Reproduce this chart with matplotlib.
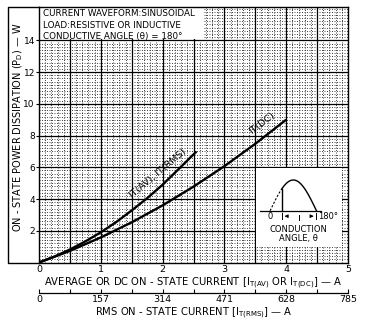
import numpy as np
import matplotlib
matplotlib.use("Agg")
import matplotlib.pyplot as plt
from matplotlib.ticker import MultipleLocator, FixedLocator
from matplotlib.patches import Rectangle
from matplotlib.lines import Line2D

# ---- data ----
av_current = [0, 0.25, 0.5, 0.75, 1.0, 1.25, 1.5, 1.75, 2.0, 2.25, 2.55]
av_power = [0, 0.37, 0.82, 1.33, 1.90, 2.55, 3.28, 4.05, 4.90, 5.85, 7.0]
dc_current = [0, 0.5, 1.0, 1.5, 2.0, 2.5, 3.0, 3.5, 4.0]
dc_power = [0, 0.73, 1.58, 2.53, 3.60, 4.78, 6.07, 7.48, 9.0]
x_ticks = [0, 1, 2, 3, 4, 5]
y_ticks = [2, 4, 6, 8, 10, 12, 14]
rms_ticks = [0, 157, 314, 471, 628, 785]
rms_labels = ["0", "157", "314", "471", "628", "785"]

W, H = 370, 323
fig = plt.figure(figsize=(W / 100, H / 100), dpi=100)
fig.patch.set_facecolor("white")

left, right, top, bottom = 39, 348, 7, 262.5
ax = fig.add_axes([left / W, 1 - bottom / H, (right - left) / W, (bottom - top) / H])
ax.set_xlim(0, 5)
ax.set_ylim(0, 16.1)
ax.set_axisbelow(True)

# graph-paper grid
ax.xaxis.set_minor_locator(MultipleLocator(0.1))
ax.yaxis.set_minor_locator(MultipleLocator(0.2))
ax.grid(which="minor", color="#2a2a2a", lw=0.6, linestyle=(0, (1.2, 1.8)))
ax.vlines(np.arange(0.5, 5.0, 0.5), 0, 16.1, color="black", lw=0.9, zorder=0.7)
ax.hlines(np.arange(2, 16, 2), 0, 5, color="black", lw=0.9, zorder=0.7)

# ticks
ax.set_xticks(x_ticks)
ax.set_yticks(y_ticks)
ax.tick_params(axis="x", which="major", length=0, pad=1.5, labelsize=6.8)
ax.tick_params(axis="y", which="major", length=2.5, width=0.8, pad=0.5, labelsize=6.5)
ax.tick_params(which="minor", length=0)
for s in ax.spines.values():
    s.set_linewidth(1.0)

# white areas (text box, inset)
ax.add_patch(Rectangle((0, 14.06), 2.65, 2.04, facecolor="white", edgecolor="none", zorder=1))
ax.add_patch(Rectangle((3.515, 1.0), 1.385, 4.95, facecolor="white", edgecolor="none", zorder=1))

# curves
ax.plot(av_current, av_power, color="black", lw=1.7, zorder=3, solid_capstyle="butt")
ax.plot(dc_current, dc_power, color="black", lw=1.7, zorder=3, solid_capstyle="butt")
ax.text(1.93, 5.6, "IT(AV), IT(RMS)", rotation=40,
        fontsize=6.8, ha="center", va="center", zorder=4)
ax.text(3.6, 8.8, "IT(DC)", rotation=37,
        fontsize=6.8, ha="center", va="center", zorder=4)

# conditions text
ax.text(0.07, 15.68, "CURRENT WAVEFORM:SINUSOIDAL", fontsize=6.3, ha="left", va="center", zorder=4)
ax.text(0.07, 14.96, "LOAD:RESISTIVE OR INDUCTIVE", fontsize=6.3, ha="left", va="center", zorder=4)
ax.text(0.07, 14.27, "CONDUCTIVE ANGLE (θ) = 180°", fontsize=6.3, ha="left", va="center", zorder=4)

# inset schematic (half sine wave)
x0, x180, base, amp = 3.74, 4.49, 3.26, 1.94
th = np.linspace(0, 180, 181)
xs = x0 + th / 180 * (x180 - x0)
ys = base + amp * np.sin(np.radians(th))
cut = 45
ax.plot(xs[th <= cut], ys[th <= cut], color="black", lw=0.8, ls=(0, (2, 1.5)), zorder=3)
ax.plot(xs[th >= cut], ys[th >= cut], color="black", lw=1.0, zorder=3)
xc = x0 + cut / 180 * (x180 - x0)
ax.plot([xc, xc], [base, base + amp * np.sin(np.radians(cut))], color="black", lw=1.0, zorder=3)
ax.plot([3.58, 4.56], [base, base], color="black", lw=0.9, zorder=3)
yd = 2.92
ax.text(x0, yd, "0", fontsize=6, ha="center", va="center", zorder=4)
ax.plot([xc, xc], [yd - 0.17, yd + 0.17], color="black", lw=0.7, zorder=3)
ax.plot([x180, x180], [yd - 0.17, yd + 0.17], color="black", lw=0.7, zorder=3)
ax.annotate("", xy=(xc, yd), xytext=(xc + 0.13, yd),
            arrowprops=dict(arrowstyle="-|>", lw=0.6, color="black", mutation_scale=5), zorder=4)
ax.annotate("", xy=(x180, yd), xytext=(x180 - 0.13, yd),
            arrowprops=dict(arrowstyle="-|>", lw=0.6, color="black", mutation_scale=5), zorder=4)
xm = (xc + x180) / 2
ax.plot([xm, xm], [yd - 0.25, yd + 0.1], color="black", lw=0.7, zorder=3)
ax.text(x180 + 0.02, yd, "180°", fontsize=6, ha="left", va="center", zorder=4)
ax.text(4.2, 2.07, "CONDUCTION", fontsize=6, ha="center", va="center", zorder=4)
ax.text(4.2, 1.5, "ANGLE, θ", fontsize=6, ha="center", va="center", zorder=4)

# primary x label
ax.set_xlabel(r"AVERAGE OR DC ON - STATE CURRENT [I$_{\mathregular{T(AV)}}$ OR I$_{\mathregular{T(DC)}}$] — A",
              fontsize=7.2, labelpad=1.5)

# secondary RMS axis
sec_loc = -(292.7 - bottom) / (bottom - top)
sec = ax.secondary_xaxis(sec_loc, functions=(lambda x: x * 157, lambda x: x / 157))
sec.xaxis.set_major_locator(FixedLocator(rms_ticks))
sec.set_xticklabels(rms_labels)
sec.xaxis.set_minor_locator(MultipleLocator(78.5))
sec.tick_params(which="both", direction="in", length=3, width=0.8, labelsize=6.8, pad=1.5)
sec.spines["bottom"].set_linewidth(0.9)
sec.set_xlabel(r"RMS ON - STATE CURRENT [I$_{\mathregular{T(RMS)}}$] — A", fontsize=7.2, labelpad=1.5)

# y label and frame
fig.text(18 / W, 1 - 127.5 / H, r"ON - STATE POWER DISSIPATION (P$_{\mathregular{D}}$) — W",
         rotation=90, fontsize=7, ha="center", va="center")
fig.add_artist(Line2D([left / W, 8 / W, 8 / W, left / W],
                      [1 - top / H, 1 - top / H, 1 - bottom / H, 1 - bottom / H],
                      color="black", lw=1.0, transform=fig.transFigure))

fig.savefig("out.png", dpi=100, facecolor="white")
